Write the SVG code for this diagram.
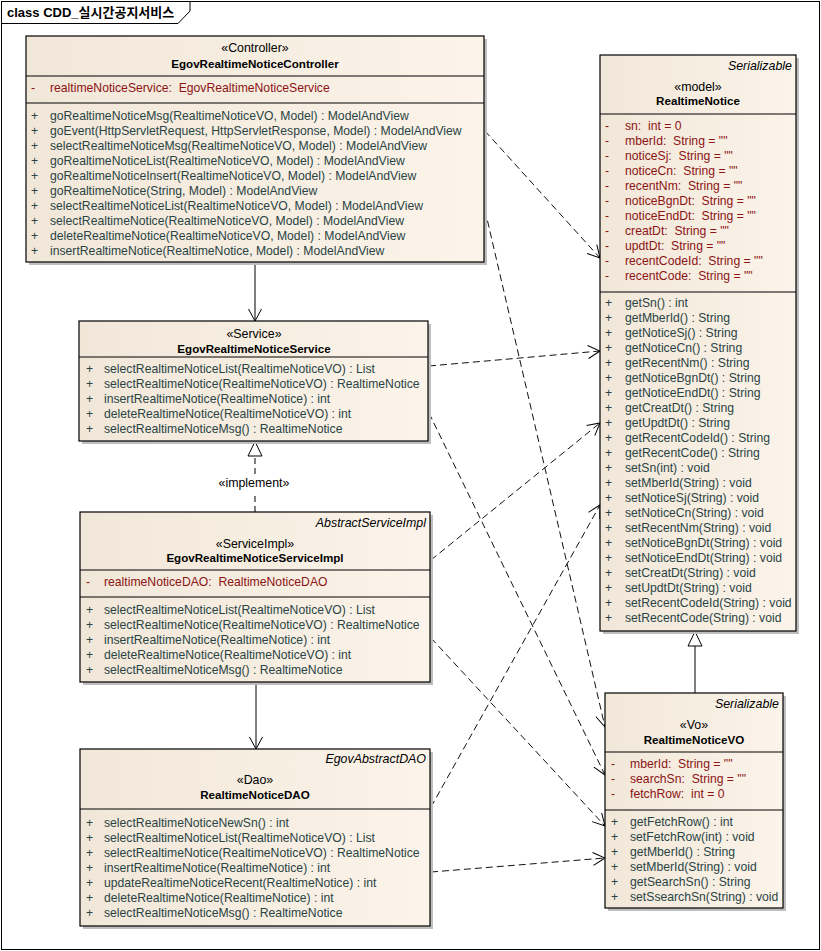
<svg xmlns="http://www.w3.org/2000/svg" width="821" height="951" viewBox="0 0 821 951">
<defs>
<linearGradient id="bg" x1="0" y1="0" x2="1" y2="0">
<stop offset="0" stop-color="#F1E7D9"/>
<stop offset="1" stop-color="#FCF4EA"/>
</linearGradient>
<marker id="open" markerUnits="userSpaceOnUse" markerWidth="14" markerHeight="14" refX="12" refY="6.5" orient="auto" overflow="visible">
<path d="M0,0 L12,6.5 L0,13" fill="none" stroke="#000" stroke-width="1"/>
</marker>
</defs>
<style>
text{font-family:"Liberation Sans",Arial,sans-serif;font-size:12.2px;white-space:pre}
.box{fill:url(#bg);stroke:#000;stroke-width:1.2}
.sh{fill:#BEBEBE}
.dv{stroke:#000;stroke-width:1}
.st{text-anchor:middle;fill:#000;font-size:12.4px}
.nm{text-anchor:middle;font-weight:bold;fill:#000;font-size:11.6px}
.it{text-anchor:end;font-style:italic;fill:#000;font-size:12.4px}
.at{fill:#8C1414}
.op{fill:#2A4444}
.dep{fill:none;stroke:#111;stroke-width:1;stroke-dasharray:7,4;marker-end:url(#open)}
.sol{fill:none;stroke:#000;stroke-width:1}
.tri{fill:#fff;stroke:#000;stroke-width:1}
</style>
<rect x="0" y="0" width="821" height="951" fill="#fff"/>
<g id="frame">
<rect x="1.5" y="1.5" width="818" height="948" fill="none" stroke="#000" stroke-width="1"/>
<path d="M1.5,23.5 H178 L190,11 V1.5" fill="none" stroke="#000" stroke-width="1"/>
<text x="7" y="17" style="font-family:'Liberation Sans','Noto Sans CJK KR',sans-serif;font-size:13px;font-weight:bold" fill="#000">class CDD_실시간공지서비스</text>
</g>

<g id="connectors">
<line class="sol" x1="255" y1="262" x2="255" y2="321" marker-end="url(#open)"/>
<line x1="255" y1="512" x2="255" y2="492" stroke="#000" stroke-dasharray="6,4"/>
<line x1="255" y1="474" x2="255" y2="456" stroke="#000" stroke-dasharray="6,4"/>
<polygon class="tri" points="255,441.5 248,456 262,456"/>
<text x="254" y="487" class="st">«implement»</text>
<line class="sol" x1="256" y1="682" x2="256" y2="749" marker-end="url(#open)"/>
<line class="sol" x1="695" y1="693" x2="695" y2="646"/>
<polygon class="tri" points="695,631.5 688,646 702,646"/>
<line class="dep" x1="485" y1="131" x2="600" y2="258"/>
<line class="dep" x1="485" y1="210" x2="605" y2="727"/>
<line class="dep" x1="429" y1="366" x2="600" y2="351"/>
<line class="dep" x1="429" y1="413" x2="605" y2="775"/>
<line class="dep" x1="431" y1="560" x2="600" y2="423"/>
<line class="dep" x1="431" y1="638" x2="605" y2="826"/>
<line class="dep" x1="431" y1="807" x2="600" y2="505"/>
<line class="dep" x1="431" y1="872" x2="605" y2="858"/>
</g>

<g id="EgovRealtimeNoticeController">
<rect class="sh" x="29" y="39" width="458" height="226"/>
<rect class="box" x="26" y="36" width="458" height="226"/>
<line class="dv" x1="26" y1="76" x2="484" y2="76"/>
<line class="dv" x1="26" y1="103" x2="484" y2="103"/>
<text x="255" y="52" class="st">«Controller»</text>
<text x="255" y="68" class="nm">EgovRealtimeNoticeController</text>
<text x="31" y="92" class="at">-</text><text x="50" y="92" class="at">realtimeNoticeService:  EgovRealtimeNoticeService</text>
<g class="op">
<text x="31" y="120">+</text><text x="50" y="120">goRealtimeNoticeMsg(RealtimeNoticeVO, Model) : ModelAndView</text>
<text x="31" y="135">+</text><text x="50" y="135">goEvent(HttpServletRequest, HttpServletResponse, Model) : ModelAndView</text>
<text x="31" y="150">+</text><text x="50" y="150">selectRealtimeNoticeMsg(RealtimeNoticeVO, Model) : ModelAndView</text>
<text x="31" y="165">+</text><text x="50" y="165">goRealtimeNoticeList(RealtimeNoticeVO, Model) : ModelAndView</text>
<text x="31" y="180">+</text><text x="50" y="180">goRealtimeNoticeInsert(RealtimeNoticeVO, Model) : ModelAndView</text>
<text x="31" y="195">+</text><text x="50" y="195">goRealtimeNotice(String, Model) : ModelAndView</text>
<text x="31" y="210">+</text><text x="50" y="210">selectRealtimeNoticeList(RealtimeNoticeVO, Model) : ModelAndView</text>
<text x="31" y="225">+</text><text x="50" y="225">selectRealtimeNotice(RealtimeNoticeVO, Model) : ModelAndView</text>
<text x="31" y="240">+</text><text x="50" y="240">deleteRealtimeNotice(RealtimeNoticeVO, Model) : ModelAndView</text>
<text x="31" y="255">+</text><text x="50" y="255">insertRealtimeNotice(RealtimeNotice, Model) : ModelAndView</text>
</g>
</g>

<g id="EgovRealtimeNoticeService">
<rect class="sh" x="82" y="324" width="349" height="120"/>
<rect class="box" x="79" y="321" width="349" height="120"/>
<line class="dv" x1="79" y1="357" x2="428" y2="357"/>
<text x="254" y="338" class="st">«Service»</text>
<text x="254" y="353" class="nm">EgovRealtimeNoticeService</text>
<g class="op">
<text x="86" y="373">+</text><text x="104" y="373">selectRealtimeNoticeList(RealtimeNoticeVO) : List</text>
<text x="86" y="388">+</text><text x="104" y="388">selectRealtimeNotice(RealtimeNoticeVO) : RealtimeNotice</text>
<text x="86" y="403">+</text><text x="104" y="403">insertRealtimeNotice(RealtimeNotice) : int</text>
<text x="86" y="418">+</text><text x="104" y="418">deleteRealtimeNotice(RealtimeNoticeVO) : int</text>
<text x="86" y="433">+</text><text x="104" y="433">selectRealtimeNoticeMsg() : RealtimeNotice</text>
</g>
</g>

<g id="EgovRealtimeNoticeServiceImpl">
<rect class="sh" x="83" y="515" width="350" height="170"/>
<rect class="box" x="80" y="512" width="350" height="170"/>
<line class="dv" x1="80" y1="570" x2="430" y2="570"/>
<line class="dv" x1="80" y1="597" x2="430" y2="597"/>
<text x="426" y="527" class="it">AbstractServiceImpl</text>
<text x="255" y="548" class="st">«ServiceImpl»</text>
<text x="255" y="562" class="nm">EgovRealtimeNoticeServiceImpl</text>
<text x="86" y="586" class="at">-</text><text x="104" y="586" class="at">realtimeNoticeDAO:  RealtimeNoticeDAO</text>
<g class="op">
<text x="86" y="614">+</text><text x="104" y="614">selectRealtimeNoticeList(RealtimeNoticeVO) : List</text>
<text x="86" y="629">+</text><text x="104" y="629">selectRealtimeNotice(RealtimeNoticeVO) : RealtimeNotice</text>
<text x="86" y="644">+</text><text x="104" y="644">insertRealtimeNotice(RealtimeNotice) : int</text>
<text x="86" y="659">+</text><text x="104" y="659">deleteRealtimeNotice(RealtimeNoticeVO) : int</text>
<text x="86" y="674">+</text><text x="104" y="674">selectRealtimeNoticeMsg() : RealtimeNotice</text>
</g>
</g>

<g id="RealtimeNoticeDAO">
<rect class="sh" x="83" y="752" width="350" height="177"/>
<rect class="box" x="80" y="749" width="350" height="177"/>
<line class="dv" x1="80" y1="809" x2="430" y2="809"/>
<text x="426" y="763" class="it">EgovAbstractDAO</text>
<text x="255" y="784" class="st">«Dao»</text>
<text x="255" y="799" class="nm">RealtimeNoticeDAO</text>
<g class="op">
<text x="86" y="827">+</text><text x="104" y="827">selectRealtimeNoticeNewSn() : int</text>
<text x="86" y="842">+</text><text x="104" y="842">selectRealtimeNoticeList(RealtimeNoticeVO) : List</text>
<text x="86" y="857">+</text><text x="104" y="857">selectRealtimeNotice(RealtimeNoticeVO) : RealtimeNotice</text>
<text x="86" y="872">+</text><text x="104" y="872">insertRealtimeNotice(RealtimeNotice) : int</text>
<text x="86" y="887">+</text><text x="104" y="887">updateRealtimeNoticeRecent(RealtimeNotice) : int</text>
<text x="86" y="902">+</text><text x="104" y="902">deleteRealtimeNotice(RealtimeNotice) : int</text>
<text x="86" y="917">+</text><text x="104" y="917">selectRealtimeNoticeMsg() : RealtimeNotice</text>
</g>
</g>

<g id="RealtimeNotice">
<rect class="sh" x="603" y="58" width="196" height="576"/>
<rect class="box" x="600" y="55" width="196" height="576"/>
<line class="dv" x1="600" y1="114" x2="796" y2="114"/>
<line class="dv" x1="600" y1="292" x2="796" y2="292"/>
<text x="792" y="70" class="it">Serializable</text>
<text x="698" y="91" class="st">«model»</text>
<text x="698" y="105" class="nm">RealtimeNotice</text>
<g class="at">
<text x="605" y="130">-</text><text x="625" y="130">sn:  int = 0</text>
<text x="605" y="145">-</text><text x="625" y="145">mberId:  String = ""</text>
<text x="605" y="160">-</text><text x="625" y="160">noticeSj:  String = ""</text>
<text x="605" y="175">-</text><text x="625" y="175">noticeCn:  String = ""</text>
<text x="605" y="190">-</text><text x="625" y="190">recentNm:  String = ""</text>
<text x="605" y="205">-</text><text x="625" y="205">noticeBgnDt:  String = ""</text>
<text x="605" y="220">-</text><text x="625" y="220">noticeEndDt:  String = ""</text>
<text x="605" y="235">-</text><text x="625" y="235">creatDt:  String = ""</text>
<text x="605" y="250">-</text><text x="625" y="250">updtDt:  String = ""</text>
<text x="605" y="265">-</text><text x="625" y="265">recentCodeId:  String = ""</text>
<text x="605" y="280">-</text><text x="625" y="280">recentCode:  String = ""</text>
</g>
<g class="op">
<text x="605" y="307">+</text><text x="625" y="307">getSn() : int</text>
<text x="605" y="322">+</text><text x="625" y="322">getMberId() : String</text>
<text x="605" y="337">+</text><text x="625" y="337">getNoticeSj() : String</text>
<text x="605" y="352">+</text><text x="625" y="352">getNoticeCn() : String</text>
<text x="605" y="367">+</text><text x="625" y="367">getRecentNm() : String</text>
<text x="605" y="382">+</text><text x="625" y="382">getNoticeBgnDt() : String</text>
<text x="605" y="397">+</text><text x="625" y="397">getNoticeEndDt() : String</text>
<text x="605" y="412">+</text><text x="625" y="412">getCreatDt() : String</text>
<text x="605" y="427">+</text><text x="625" y="427">getUpdtDt() : String</text>
<text x="605" y="442">+</text><text x="625" y="442">getRecentCodeId() : String</text>
<text x="605" y="457">+</text><text x="625" y="457">getRecentCode() : String</text>
<text x="605" y="472">+</text><text x="625" y="472">setSn(int) : void</text>
<text x="605" y="487">+</text><text x="625" y="487">setMberId(String) : void</text>
<text x="605" y="502">+</text><text x="625" y="502">setNoticeSj(String) : void</text>
<text x="605" y="517">+</text><text x="625" y="517">setNoticeCn(String) : void</text>
<text x="605" y="532">+</text><text x="625" y="532">setRecentNm(String) : void</text>
<text x="605" y="547">+</text><text x="625" y="547">setNoticeBgnDt(String) : void</text>
<text x="605" y="562">+</text><text x="625" y="562">setNoticeEndDt(String) : void</text>
<text x="605" y="577">+</text><text x="625" y="577">setCreatDt(String) : void</text>
<text x="605" y="592">+</text><text x="625" y="592">setUpdtDt(String) : void</text>
<text x="605" y="607">+</text><text x="625" y="607">setRecentCodeId(String) : void</text>
<text x="605" y="622">+</text><text x="625" y="622">setRecentCode(String) : void</text>
</g>
</g>

<g id="RealtimeNoticeVO">
<rect class="sh" x="608" y="696" width="178" height="215"/>
<rect class="box" x="605" y="693" width="178" height="215"/>
<line class="dv" x1="605" y1="752" x2="783" y2="752"/>
<line class="dv" x1="605" y1="810" x2="783" y2="810"/>
<text x="779" y="708" class="it">Serializable</text>
<text x="694" y="729" class="st">«Vo»</text>
<text x="694" y="744" class="nm">RealtimeNoticeVO</text>
<g class="at">
<text x="611" y="768">-</text><text x="630" y="768">mberId:  String = ""</text>
<text x="611" y="783">-</text><text x="630" y="783">searchSn:  String = ""</text>
<text x="611" y="798">-</text><text x="630" y="798">fetchRow:  int = 0</text>
</g>
<g class="op">
<text x="611" y="826">+</text><text x="630" y="826">getFetchRow() : int</text>
<text x="611" y="841">+</text><text x="630" y="841">setFetchRow(int) : void</text>
<text x="611" y="856">+</text><text x="630" y="856">getMberId() : String</text>
<text x="611" y="871">+</text><text x="630" y="871">setMberId(String) : void</text>
<text x="611" y="886">+</text><text x="630" y="886">getSearchSn() : String</text>
<text x="611" y="901">+</text><text x="630" y="901">setSsearchSn(String) : void</text>
</g>
</g>
</svg>
